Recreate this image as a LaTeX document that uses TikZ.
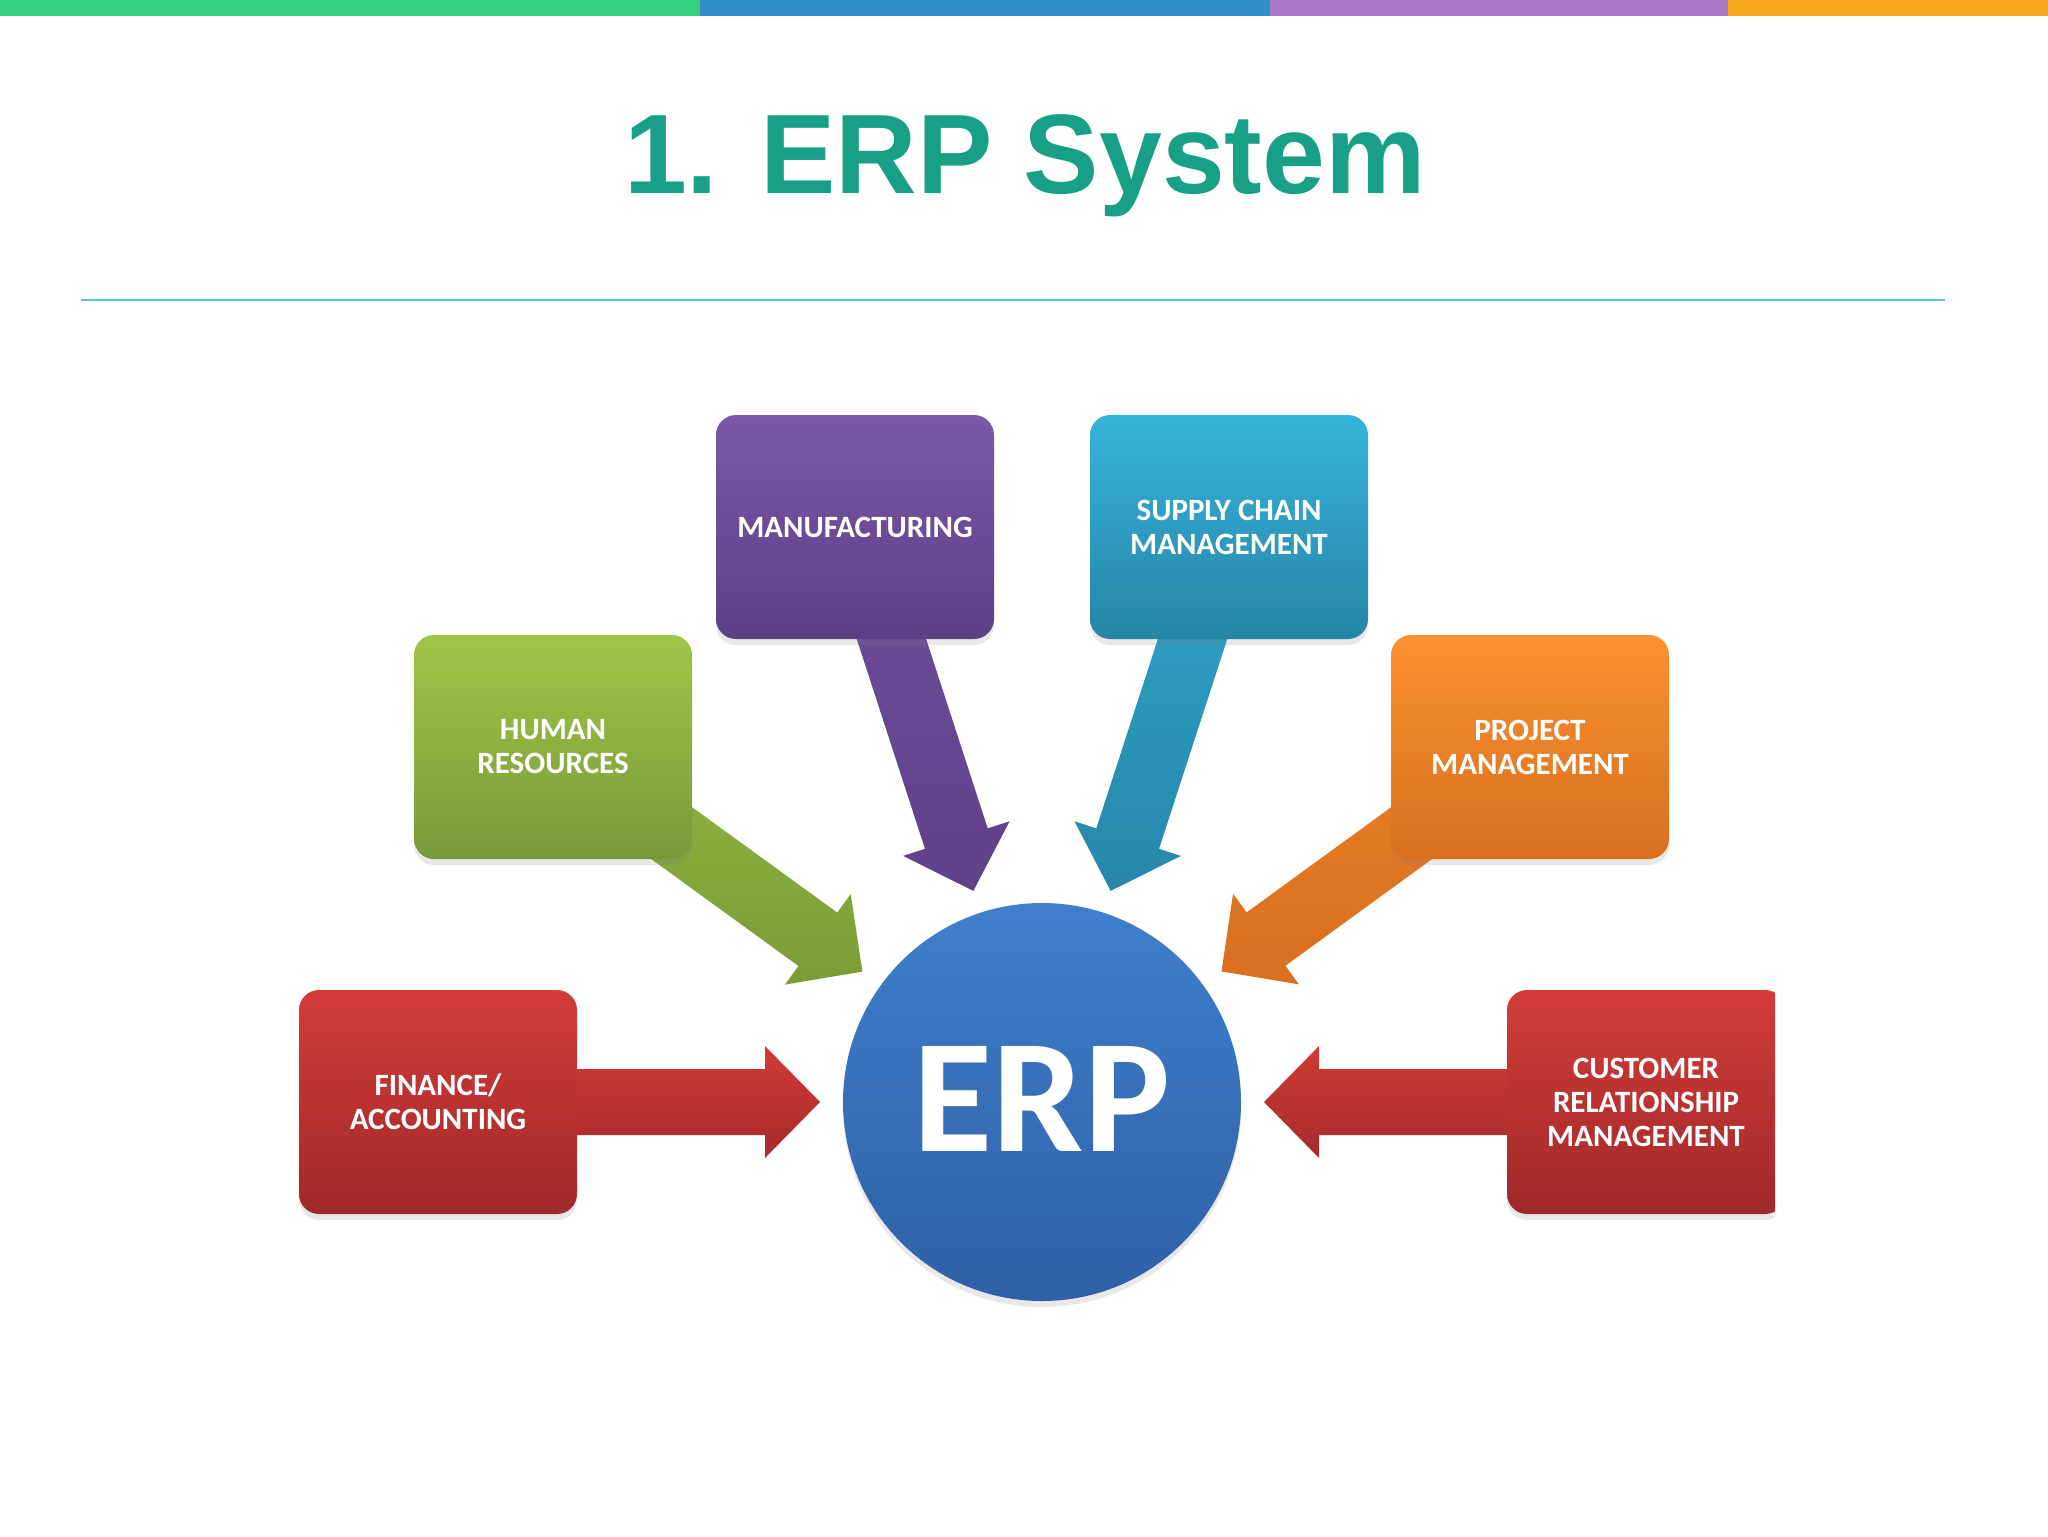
\documentclass[tikz,border=0pt]{standalone}
\usepackage{fontspec}
\setmainfont{Liberation Sans}
\newfontfamily\calib{Carlito}
\usetikzlibrary{calc,shadows}
\definecolor{titlegreen}{HTML}{17A086}
\definecolor{rulecol}{HTML}{5CC8C0}
\definecolor{barA}{HTML}{33D17F}
\definecolor{barB}{HTML}{3190C8}
\definecolor{barC}{HTML}{A977C6}
\definecolor{barD}{HTML}{F5A81D}
\definecolor{purT}{HTML}{7B59A7}\definecolor{purB}{HTML}{5D3F86}
\definecolor{bluT}{HTML}{36B4DC}\definecolor{bluB}{HTML}{2685A5}
\definecolor{grnT}{HTML}{9FC648}\definecolor{grnB}{HTML}{769A39}
\definecolor{orgT}{HTML}{FB9130}\definecolor{orgB}{HTML}{D86F1E}
\definecolor{redT}{HTML}{D33C38}\definecolor{redB}{HTML}{A0292B}
\definecolor{erpT}{HTML}{3F7FCB}\definecolor{erpB}{HTML}{2F60A6}
\definecolor{apurT}{HTML}{6F4F9D}\definecolor{apurB}{HTML}{5F4189}
\definecolor{abluT}{HTML}{2EA6CB}\definecolor{abluB}{HTML}{2787A9}
\definecolor{agrnT}{HTML}{8DB83F}\definecolor{agrnB}{HTML}{7A9C37}
\definecolor{aorgT}{HTML}{EC8025}\definecolor{aorgB}{HTML}{D86E1F}
\definecolor{aredT}{HTML}{CF3B36}\definecolor{aredB}{HTML}{A62B2B}
\pgfdeclarelayer{paper}
\pgfdeclarelayer{bg}
\pgfsetlayers{paper,bg,main}
% arrow from box #1 towards the ERP circle, shaded #2 (top) to #3 (bottom)
\newcommand\erparrow[3]{%
  \coordinate (T#1) at ($(erp.center)!111pt!(#1.center)$);
  \coordinate (B#1) at ($(T#1)!27.5pt!(#1.center)$);
  \shade[top color=#2,bottom color=#3]
    ($(#1.center)!16.5pt!90:(T#1)$) --
    ($(B#1)!16.5pt!-90:(#1.center)$) --
    ($(B#1)!28pt!-90:(#1.center)$) --
    (T#1) --
    ($(B#1)!28pt!90:(#1.center)$) --
    ($(B#1)!16.5pt!90:(#1.center)$) --
    ($(#1.center)!16.5pt!-90:(T#1)$) -- cycle;
}
\tikzset{
  box/.style={rectangle, rounded corners=10pt, minimum width=139pt,
    minimum height=112pt, inner sep=0pt, align=center, text=white,
    font=\calib\bfseries\fontsize{15.5}{17}\selectfont,
    drop shadow={opacity=0.18, shadow xshift=0pt, shadow yshift=-3pt}},
  erpnode/.style={circle, minimum size=199pt, inner sep=0pt, text=white,
    top color=erpT, bottom color=erpB,
    font=\calib\bfseries\fontsize{81}{90}\selectfont,
    drop shadow={opacity=0.18, shadow xshift=0pt, shadow yshift=-3pt}},
}
\begin{document}
\begin{tikzpicture}[x=0.5pt,y=-0.5pt]
\useasboundingbox (0,0) rectangle (2048,1536);
\begin{pgfonlayer}{paper}
\fill[white] (0,0) rectangle (2048,1536);
\end{pgfonlayer}
% top colour bar
\fill[barA] (0,0) rectangle (700,16);
\fill[barB] (700,0) rectangle (1270,16);
\fill[barC] (1270,0) rectangle (1728,16);
\fill[barD] (1728,0) rectangle (2048,16);
% title
\node[anchor=base, text=titlegreen, inner sep=0pt,
  font=\bfseries\fontsize{56.5}{62}\selectfont] (title) at (1025,193) {1. ERP System};
\coordinate (ruleL) at (81,300);
\coordinate (ruleR) at (1945,300);
\draw[rulecol, line width=1pt] (ruleL) -- (ruleR);
% boxes
\node[box, top color=purT, bottom color=purB] (manu) at (855,527) {MANUFACTURING};
\node[box, top color=bluT, bottom color=bluB] (supply) at (1229,527) {SUPPLY CHAIN\\MANAGEMENT};
\node[box, top color=grnT, bottom color=grnB] (hr) at (553,747) {HUMAN\\RESOURCES};
\node[box, top color=orgT, bottom color=orgB] (project) at (1530,747) {PROJECT\\MANAGEMENT};
\node[box, top color=redT, bottom color=redB] (finance) at (438,1102) {FINANCE/\\ACCOUNTING};
\begin{scope}
  \clip (0,320) rectangle (1775,1536);
  \node[box, top color=redT, bottom color=redB] (crm) at (1646,1102) {CUSTOMER\\RELATIONSHIP\\MANAGEMENT};
\end{scope}
% centre
\node[erpnode] (erp) at (1042,1102) {\raisebox{3pt}{ERP}};
% arrows
\begin{pgfonlayer}{bg}
  \erparrow{manu}{apurT}{apurB}
  \erparrow{supply}{abluT}{abluB}
  \erparrow{hr}{agrnT}{agrnB}
  \erparrow{project}{aorgT}{aorgB}
  \erparrow{finance}{aredT}{aredB}
  \erparrow{crm}{aredT}{aredB}
\end{pgfonlayer}
\end{tikzpicture}
\end{document}
